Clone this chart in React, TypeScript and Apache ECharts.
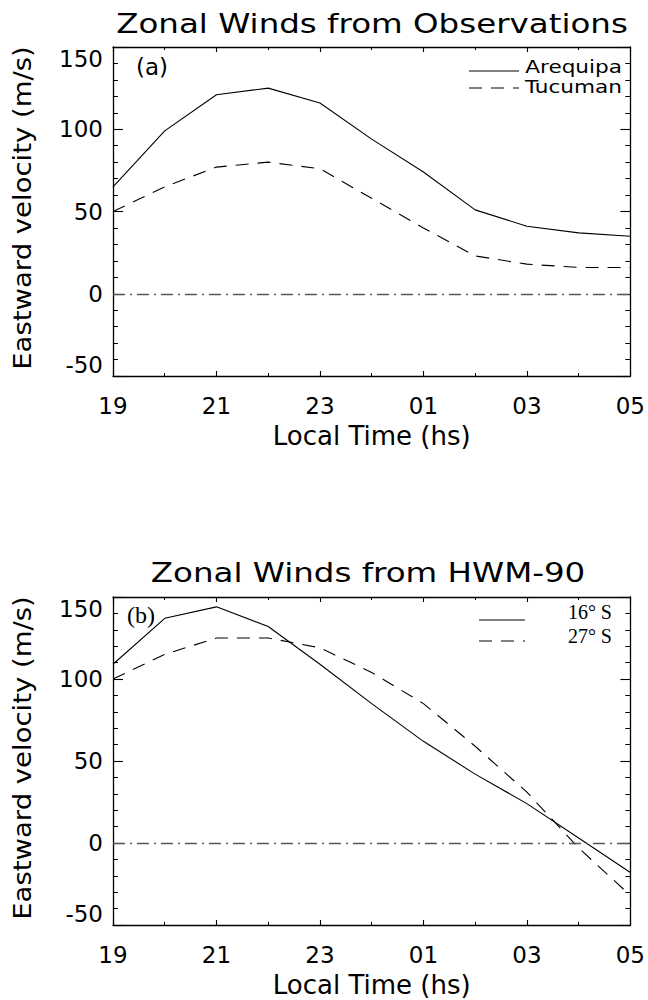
import React, { useEffect, useRef } from "react";
import * as echarts from "echarts";

// ---------- data ----------
const hours = ["19", "20", "21", "22", "23", "00", "01", "02", "03", "04", "05"];
const arequipa = [65, 99, 121, 125, 116, 94, 74, 51, 41, 37, 35];
const tucuman = [50, 65, 77, 80, 76, 58, 40, 23, 18, 16, 16];
const hwm16S = [109, 137, 144, 132, 109, 85, 62, 42, 24, 3, -18];
const hwm27S = [100, 115, 125, 125, 119, 104, 85, 59, 31, -3, -32];
const yTicks = [-50, 0, 50, 100, 150];

const titles = ["Zonal Winds from Observations", "Zonal Winds from HWM-90"];
const panelTags = ["(a)", "(b)"];
const legendA = ["Arequipa", "Tucuman"];
const legendB = ["16° S", "27° S"];
const xName = "Local Time (hs)";
const yName = "Eastward velocity (m/s)";

const SANS = "DejaVu Sans";
const SERIF = "Liberation Serif";
const DASH = [13, 9];
const DASHDOT = [12, 5, 2, 5];

const grids = [
  { left: 113, right: 17, top: 47, height: 329 },
  { left: 113, right: 17, top: 597, height: 328 },
];

function xAxis(gi: number, pos: "bottom" | "top") {
  const bottom = pos === "bottom";
  return {
    type: "value",
    gridIndex: gi,
    position: pos,
    min: 0,
    max: hours.length - 1,
    interval: 2,
    axisLine: { show: true, onZero: false, lineStyle: { color: "#000", width: 1.3 } },
    axisTick: { show: true, inside: true, length: 5, lineStyle: { color: "#000", width: 1.1 } },
    minorTick: { show: true, splitNumber: 2, length: 3, lineStyle: { color: "#000", width: 1 } },
    splitLine: { show: false },
    axisLabel: bottom
      ? {
          show: true,
          margin: 18,
          color: "#000",
          fontFamily: SANS,
          fontSize: 23,
          formatter: (v: number) => hours[Math.round(v)] ?? "",
        }
      : { show: false },
    name: bottom ? xName : "",
    nameLocation: "middle",
    nameGap: 47,
    nameTextStyle: { color: "#000", fontFamily: SANS, fontSize: 26 },
  };
}

function yAxis(gi: number, pos: "left" | "right") {
  const left = pos === "left";
  return {
    type: "value",
    gridIndex: gi,
    position: pos,
    min: yTicks[0],
    max: yTicks[yTicks.length - 1],
    interval: yTicks[1] - yTicks[0],
    axisLine: { show: true, onZero: false, lineStyle: { color: "#000", width: 1.3 } },
    axisTick: { show: true, inside: true, length: 10, lineStyle: { color: "#000", width: 1.1 } },
    minorTick: { show: true, splitNumber: 5, length: 5, lineStyle: { color: "#000", width: 1 } },
    splitLine: { show: false },
    axisLabel: left
      ? {
          show: true,
          margin: 10,
          color: "#000",
          fontFamily: SANS,
          fontSize: 23,
          verticalAlignMaxLabel: "top",
          verticalAlignMinLabel: "bottom",
        }
      : { show: false },
  };
}

function lineSeries(name: string, vals: number[], gi: number, dashed: boolean, zero: boolean) {
  const s: any = {
    name,
    type: "line",
    xAxisIndex: gi * 2,
    yAxisIndex: gi * 2,
    data: vals.map((v, i) => [i, v]),
    symbol: "none",
    lineStyle: { color: "#000", width: 1.1, type: dashed ? DASH : "solid" },
    z: 3,
  };
  if (zero) {
    s.markLine = {
      silent: true,
      symbol: "none",
      label: { show: false },
      lineStyle: { color: "#555", width: 1.3, type: DASHDOT },
      data: [{ yAxis: 0 }],
    };
  }
  return s;
}

function txt(text: string, x: number, y: number, family: string, size: number, align: string, opts: any = {}) {
  return {
    type: "text",
    x,
    y,
    ...opts,
    style: {
      text,
      fontFamily: family,
      fontSize: size,
      fill: "#000",
      textAlign: align,
      align,
      textVerticalAlign: "middle",
      verticalAlign: "middle",
    },
  };
}

function seg(x1: number, x2: number, y: number, dashed: boolean) {
  return {
    type: "line",
    shape: { x1, y1: y, x2, y2: y },
    style: { stroke: "#000", lineWidth: 1.1, lineDash: dashed ? DASH : null },
  };
}

export default function App() {
  const ref = useRef<HTMLDivElement>(null);
  useEffect(() => {
    if (!ref.current) return;
    const chart = echarts.init(ref.current, undefined, { renderer: "svg" });
    const option: any = {
      animation: false,
      backgroundColor: "#fff",
      grid: grids,
      xAxis: [xAxis(0, "bottom"), xAxis(0, "top"), xAxis(1, "bottom"), xAxis(1, "top")],
      yAxis: [yAxis(0, "left"), yAxis(0, "right"), yAxis(1, "left"), yAxis(1, "right")],
      series: [
        lineSeries(legendA[0], arequipa, 0, false, true),
        lineSeries(legendA[1], tucuman, 0, true, false),
        lineSeries(legendB[0], hwm16S, 1, false, true),
        lineSeries(legendB[1], hwm27S, 1, true, false),
      ],
      graphic: [
        txt(titles[0], 372, 24, SANS, 26, "center", { scaleX: 1.25 }),
        txt(titles[1], 368, 573, SANS, 26, "center", { scaleX: 1.25 }),
        txt(yName, 22, 208, SANS, 25, "center", { rotation: Math.PI / 2, scaleX: 1.1 }),
        txt(yName, 22, 758, SANS, 25, "center", { rotation: Math.PI / 2, scaleX: 1.1 }),
        txt(panelTags[0], 136, 67, SANS, 23, "left"),
        txt(panelTags[1], 127, 615, SERIF, 24, "left"),
        seg(469, 519, 71, false),
        seg(469, 519, 88, true),
        txt(legendA[0], 622, 67, SANS, 18, "right", { scaleX: 1.2 }),
        txt(legendA[1], 622, 87, SANS, 18, "right", { scaleX: 1.2 }),
        seg(479, 525, 620, false),
        seg(479, 525, 641, true),
        txt(legendB[0], 612, 612, SERIF, 20, "right"),
        txt(legendB[1], 612, 636, SERIF, 20, "right"),
      ],
    };
    chart.setOption(option);
    return () => chart.dispose();
  }, []);
  return (
    <div
      ref={ref}
      style={{ position: "fixed", left: 0, top: 0, width: 648, height: 1000, background: "#fff" }}
    />
  );
}
